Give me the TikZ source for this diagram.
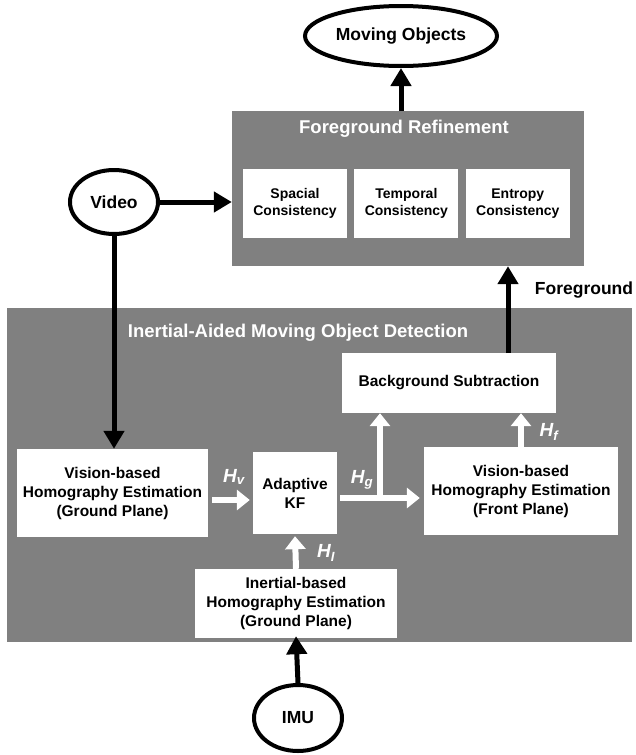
\documentclass[tikz,border=0pt]{standalone}
\usepackage{fontspec}
\setmainfont{Liberation Sans}
\usetikzlibrary{shapes.geometric,arrows.meta,positioning}
\definecolor{panelgray}{RGB}{128,128,128}
\begin{document}
\begin{tikzpicture}[x=1pt,y=-1pt]
    \tikzstyle{panel}=[rectangle,fill=panelgray,inner sep=0pt]
    \tikzstyle{block}=[rectangle,fill=white,align=center,inner sep=0pt,font=\fontsize{15.5}{19}\selectfont\bfseries]
    \tikzstyle{check}=[block,minimum width=104pt,minimum height=69pt,font=\fontsize{14}{16.5}\selectfont\bfseries]
    \tikzstyle{io}=[ellipse,line width=4pt,draw=black,fill=white,inner sep=0pt,font=\fontsize{17.5}{20}\selectfont\bfseries]
    \tikzstyle{title}=[text=white,font=\fontsize{18.5}{20}\selectfont\bfseries]
    \tikzstyle{hlabel}=[text=white,font=\fontsize{19}{20}\selectfont\bfseries\itshape]
    \tikzstyle{flow}=[line width=5pt,-{Triangle[width=20pt,length=18pt]}]
    \tikzstyle{wflow}=[line width=6pt,color=white,-{Triangle[width=20pt,length=13pt,fill=white]}]

    \useasboundingbox (0,0) rectangle (636,755);

    % outputs and inputs
    \node[io,minimum width=192pt,minimum height=60pt](moving) at (401,36){Moving Objects};
    \node[io,minimum width=88pt,minimum height=64pt](video) at (114,202){Video};
    \node[io,minimum width=88pt,minimum height=66pt](imu) at (298,718){IMU};

    % foreground refinement
    \node[panel,minimum width=352pt,minimum height=155pt](refine) at (408,188.5){};
    \node[title](refinetitle) at (404,129){Foreground Refinement};
    \node[check](spacial) at (295,203.5){Spacial\\Consistency};
    \node[check,right=7pt of spacial](temporal){Temporal\\Consistency};
    \node[check,right=7pt of temporal](entropy){Entropy\\Consistency};

    % inertial-aided detection
    \node[panel,minimum width=625pt,minimum height=334pt](detect) at (319.5,475){};
    \node[title](detecttitle) at (298,333){Inertial-Aided Moving Object Detection};
    \node[block,minimum width=191pt,minimum height=88pt](visground) at (112.5,493){Vision-based\\Homography Estimation\\(Ground Plane)};
    \node[block,minimum width=84pt,minimum height=82pt](kf) at (295,493){Adaptive\\KF};
    \node[block,minimum width=194pt,minimum height=88pt](visfront) at (521,491){Vision-based\\Homography Estimation\\(Front Plane)};
    \node[block,minimum width=214pt,minimum height=60pt](bgsub) at (449,383){Background Subtraction};
    \node[block,minimum width=202pt,minimum height=69pt](inertial) at (296,603.5){Inertial-based\\Homography Estimation\\(Ground Plane)};

    \coordinate (branch) at (380,498);
    \coordinate (fgout) at (508,353);

    \path[flow]
      (moving.south |- refine.north) edge (moving.south)
      (video.east) edge (video.east -| refine.west)
      (video.south) edge (video.south |- visground.north)
      (fgout) edge (fgout |- refine.south)
      (imu.north) edge ([yshift=2pt]inertial.south);

    \path[wflow]
      ([xshift=4pt,yshift=-7pt]visground.east) edge ([xshift=-3pt,yshift=-7pt]kf.west)
      ([xshift=3pt,yshift=-5pt]kf.east) edge ([xshift=-4pt]branch -| visfront.west)
      (branch) edge (branch |- bgsub.south)
      (visfront.north) edge (visfront.north |- bgsub.south)
      (inertial.north) edge ([yshift=-2pt]kf.south);

    \node[text=black,font=\fontsize{17.5}{20}\selectfont\bfseries](fglabel) at (584,290){Foreground};
    \node[hlabel](hv) at (234,477){H\textsubscript{v}};
    \node[hlabel](hg) at (362,480){H\textsubscript{g}};
    \node[hlabel](hi) at (326,553){H\textsubscript{I}};
    \node[hlabel](hf) at (549,432){H\textsubscript{f}};
\end{tikzpicture}
\end{document}
